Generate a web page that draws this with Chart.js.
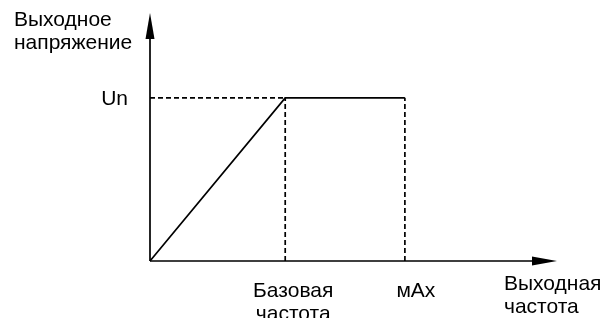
<!DOCTYPE html>
<html>
<head>
<meta charset="utf-8">
<script src="https://cdn.jsdelivr.net/npm/chart.js@4/dist/chart.umd.min.js"></script>
<style>
  html, body { margin: 0; padding: 0; background: #fff; }
  #c { display: block; }
</style>
</head>
<body>
<canvas id="c" width="604" height="318"></canvas>
<script>
// ---- data ----
const freq = [0, 1, 1.885];          // output frequency: origin, base frequency, max
const voltage = [0, 1, 1];           // output voltage: 0, Un, Un
const freqTickLabels = [['Базовая', 'частота'], ['мАх']];
const voltageTickLabels = ['Un'];
const xAxisTitle = ['Выходная', 'частота'];
const yAxisTitle = ['Выходное', 'напряжение'];
const xAxisMax = 3.01;
const yAxisMax = 1.52;

const FONT = '21px "Liberation Sans", Arial, sans-serif';

const solid = freq.map((f, i) => ({ x: f, y: voltage[i] }));
const dashH = [{ x: 0, y: voltage[1] }, { x: freq[1], y: voltage[1] }];
const dashV1 = [{ x: freq[1], y: 0 }, { x: freq[1], y: voltage[1] }];
const dashV2 = [{ x: freq[2], y: 0 }, { x: freq[2], y: voltage[2] }];

const lineStyle = { showLine: true, pointRadius: 0, borderColor: '#000', borderWidth: 1.7, tension: 0, clip: false, fill: false };

const decor = {
  id: 'decor',
  afterDatasetsDraw(chart) {
    const ctx = chart.ctx;
    const xs = chart.scales.x, ys = chart.scales.y;
    const x0 = xs.getPixelForValue(0), y0 = ys.getPixelForValue(0);
    const xEnd = xs.getPixelForValue(xAxisMax), yEnd = ys.getPixelForValue(yAxisMax);
    ctx.save();
    ctx.strokeStyle = '#000';
    ctx.fillStyle = '#000';
    ctx.lineWidth = 1.7;
    // axes
    ctx.beginPath();
    ctx.moveTo(x0, y0); ctx.lineTo(x0, yEnd + 20);
    ctx.moveTo(x0, y0); ctx.lineTo(xEnd - 20, y0);
    ctx.stroke();
    // arrowheads
    ctx.beginPath();
    ctx.moveTo(x0, yEnd); ctx.lineTo(x0 - 4.5, yEnd + 26); ctx.lineTo(x0 + 4.5, yEnd + 26); ctx.closePath();
    ctx.fill();
    ctx.beginPath();
    ctx.moveTo(xEnd, y0); ctx.lineTo(xEnd - 25, y0 - 4.5); ctx.lineTo(xEnd - 25, y0 + 4.5); ctx.closePath();
    ctx.fill();

    // texts
    ctx.font = FONT;
    ctx.textBaseline = 'alphabetic';
    // y axis title
    ctx.textAlign = 'left';
    yAxisTitle.forEach((t, i) => ctx.fillText(t, 14, 26 + i * 23));
    // Un
    ctx.textAlign = 'right';
    ctx.fillText(voltageTickLabels[0], x0 - 22, ys.getPixelForValue(voltage[1]) + 7);
    // frequency ticks
    ctx.textAlign = 'center';
    const bx = xs.getPixelForValue(freq[1]) + 8;
    freqTickLabels[0].forEach((t, i) => ctx.fillText(t, bx, y0 + 36 + i * 23));
    const mx = xs.getPixelForValue(freq[2]) + 11;
    freqTickLabels[1].forEach((t, i) => ctx.fillText(t, mx, y0 + 36 + i * 23));
    // x axis title
    ctx.textAlign = 'left';
    xAxisTitle.forEach((t, i) => ctx.fillText(t, 504, y0 + 29 + i * 23));
    ctx.restore();
  }
};

new Chart(document.getElementById('c'), {
  type: 'scatter',
  data: {
    datasets: [
      Object.assign({ data: dashH, borderDash: [5, 3] }, lineStyle),
      Object.assign({ data: dashV1, borderDash: [5, 3] }, lineStyle),
      Object.assign({ data: dashV2, borderDash: [5, 3] }, lineStyle),
      Object.assign({ data: solid }, lineStyle)
    ]
  },
  options: {
    responsive: false,
    animation: false,
    events: [],
    layout: { padding: { left: 150, right: 47, top: 13, bottom: 57 } },
    scales: {
      x: { type: 'linear', min: 0, max: xAxisMax, display: false },
      y: { type: 'linear', min: 0, max: yAxisMax, display: false }
    },
    plugins: { legend: { display: false }, tooltip: { enabled: false } }
  },
  plugins: [decor]
});
</script>
</body>
</html>
